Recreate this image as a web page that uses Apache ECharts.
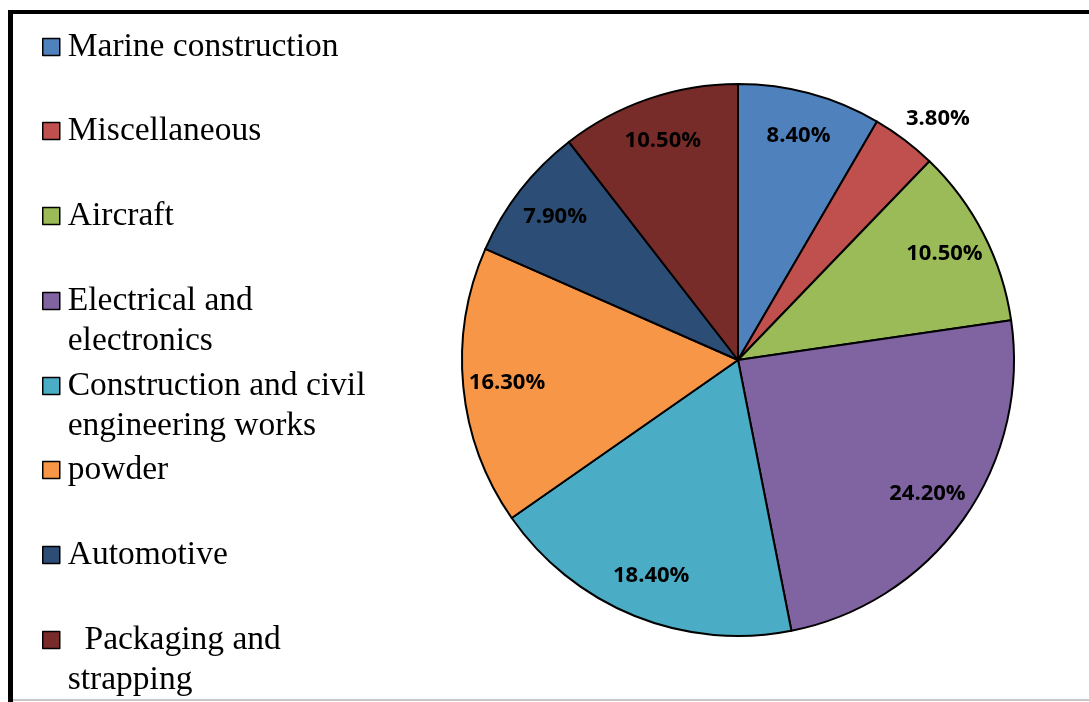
<!DOCTYPE html>
<html>
<head>
<meta charset="utf-8">
<script src="https://cdn.jsdelivr.net/npm/echarts@6/dist/echarts.min.js"></script>
<style>
html,body{margin:0;padding:0;background:#fff;}
#chart{width:1089px;height:702px;}
</style>
</head>
<body>
<div id="chart"></div>
<script>
// ---- data ----
const categories = ['Marine construction', 'Miscellaneous', 'Aircraft', 'Electrical and electronics',
  'Construction and civil engineering works', 'powder', 'Automotive', 'Packaging and strapping'];
const values = [8.4, 3.8, 10.5, 24.2, 18.4, 16.3, 7.9, 10.5];
const legendLabels = ['Marine construction', 'Miscellaneous', 'Aircraft', 'Electrical and\nelectronics',
  'Construction and civil\nengineering works', 'powder', 'Automotive', '  Packaging and\nstrapping'];
const colors = ['#4F81BD', '#C0504D', '#9BBB59', '#8064A2', '#4BACC6', '#F79646', '#2C4D75', '#772C2A'];

// ---- layout ----
const CX = 738, CY = 360, R = 276;
const LINE_H = 40;
const legendFirstLineCenters = [47, 131, 216, 301, 386, 470, 555, 640];

const chart = echarts.init(document.getElementById('chart'), null, {renderer: 'canvas'});

const mainData = categories.map((c, i) => ({name: c, value: values[i], itemStyle: {color: colors[i]}}));
const labelData = categories.map((c, i) => {
  const d = {name: c, value: values[i], itemStyle: {color: 'rgba(0,0,0,0)', borderWidth: 0}};
  if (i === 1) d.label = {offset: [60, -56]};
  return d;
});

const legends = categories.map((c, i) => {
  const multi = legendLabels[i].indexOf('\n') >= 0;
  return {
    data: [c],
    orient: 'vertical',
    left: 42,
    top: legendFirstLineCenters[i] - (multi ? 1.5 : 0.5) * LINE_H,
    padding: 0,
    icon: 'rect',
    itemWidth: 17,
    itemHeight: 17,
    itemGap: 0,
    selectedMode: false,
    itemStyle: {borderColor: '#000', borderWidth: 1.5},
    formatter: function () { return (multi ? '\n' : '') + legendLabels[i]; },
    textStyle: {
      fontFamily: 'Liberation Serif',
      fontSize: 33.5,
      color: '#000',
      lineHeight: LINE_H,
      padding: [0, 0, 0, 3]
    }
  };
});

const option = {
  backgroundColor: '#fff',
  animation: false,
  legend: legends,
  graphic: [
    {type: 'rect', silent: true, shape: {x: 8, y: 10, width: 1081, height: 4}, style: {fill: '#000'}},
    {type: 'rect', silent: true, shape: {x: 8, y: 10, width: 5, height: 692}, style: {fill: '#000'}},
    {type: 'rect', silent: true, shape: {x: 13, y: 699, width: 1076, height: 2}, style: {fill: '#c8c8c8'}}
  ],
  series: [
    {
      type: 'pie',
      center: [CX, CY],
      radius: [0, R],
      startAngle: 90,
      clockwise: true,
      avoidLabelOverlap: false,
      label: {show: false},
      labelLine: {show: false},
      itemStyle: {borderColor: '#000', borderWidth: 2},
      emphasis: {disabled: true},
      data: mainData
    },
    {
      type: 'pie',
      center: [CX, CY],
      radius: [R * 0.66, R],
      startAngle: 90,
      clockwise: true,
      silent: true,
      avoidLabelOverlap: false,
      legendHoverLink: false,
      label: {
        show: true,
        position: 'inside',
        formatter: p => p.value.toFixed(2) + '%',
        fontFamily: 'Open Sans',
        fontWeight: 'bold',
        fontSize: 22,
        color: '#000'
      },
      labelLine: {show: false},
      emphasis: {disabled: true},
      data: labelData
    }
  ]
};
chart.setOption(option);
</script>
</body>
</html>
